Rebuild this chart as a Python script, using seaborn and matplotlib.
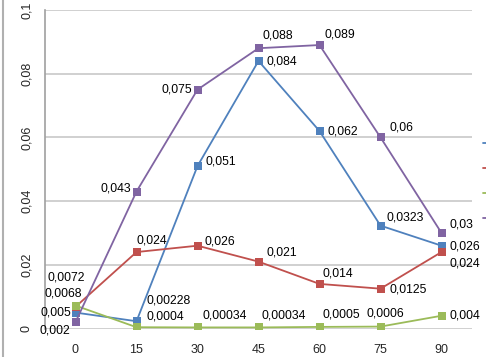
import numpy as np
import pandas as pd
import matplotlib
matplotlib.use('Agg')
import matplotlib.pyplot as plt
import seaborn as sns
from matplotlib.lines import Line2D

# data
times = [0, 15, 30, 45, 60, 75, 90]
series_names = ['Series1', 'Series2', 'Series3', 'Series4']
blue_vals = [0.005, 0.00228, 0.051, 0.084, 0.062, 0.0323, 0.026]
red_vals = [0.0068, 0.024, 0.026, 0.021, 0.014, 0.0125, 0.024]
green_vals = [0.0072, 0.0004, 0.00034, 0.00034, 0.0005, 0.0006, 0.004]
purple_vals = [0.002, 0.043, 0.075, 0.088, 0.089, 0.06, 0.03]
colors = ['#4F81BD', '#C0504D', '#9BBB59', '#8064A2']

# label offsets in pixels (dx, dy, ha) per series, per point
blue_offs = [(-4, 0, 'right'), (10, 21, 'left'), (8, 5, 'left'), (8, -1, 'left'),
             (8, 0, 'left'), (6, 8, 'left'), (8, -1, 'left')]
red_offs = [(-31, 13, 'left'), (0, 12, 'left'), (7, 4, 'left'), (8, 9, 'left'),
            (3, 10, 'left'), (9, -1, 'left'), (8, -11, 'left')]
green_offs = [(-28, 28, 'left'), (10, 11, 'left'), (5, 12, 'left'), (3, 12, 'left'),
              (3, 12, 'left'), (-14, 13, 'left'), (8, 0, 'left')]
purple_offs = [(-36, -8, 'left'), (-5, 3, 'right'), (-5, 0, 'right'), (4, 13, 'left'),
               (5, 11, 'left'), (9, 10, 'left'), (8, 8, 'left')]

all_vals = [blue_vals, red_vals, green_vals, purple_vals]
all_offs = [blue_offs, red_offs, green_offs, purple_offs]

df = pd.DataFrame({
    'time': times * 4,
    'value': blue_vals + red_vals + green_vals + purple_vals,
    'series': [s for s in series_names for _ in times],
})

sns.set_style('white')
plt.rcParams['font.family'] = ['Liberation Sans', 'DejaVu Sans']

W, H = 486, 357
fig = plt.figure(figsize=(W / 100, H / 100), dpi=100)
ax = fig.add_axes([45 / W, 1 - 328.5 / H, (472 - 45) / W, (328.5 - 10) / H])

sns.lineplot(data=df, x='time', y='value', hue='series', hue_order=series_names,
             palette=colors, marker='s', markersize=6, markeredgewidth=0,
             linewidth=1.3, ax=ax, legend=False)

def fmt(v):
    s = ('%.5f' % v).rstrip('0').rstrip('.')
    return s.replace('.', ',')

for vals, offs in zip(all_vals, all_offs):
    for t, v, (dx, dy, ha) in zip(times, vals, offs):
        ax.annotate(fmt(v), (t, v), xytext=(dx, dy), textcoords='offset pixels',
                    ha=ha, va='center', fontsize=8.8, color='black')

ax.set_xlim(-7.5, 97.5)
ax.set_ylim(0, 0.1)
ax.set_xticks(times)
ax.set_xticklabels([str(t) for t in times], fontsize=9)
yticks = [0, 0.02, 0.04, 0.06, 0.08, 0.1]
ax.set_yticks(yticks)
ax.set_yticklabels([fmt(t) if t else '0' for t in yticks], fontsize=9,
                   rotation=90, va='center')
ax.tick_params(axis='both', length=0, pad=9)
ax.tick_params(axis='x', pad=11)
ax.yaxis.grid(True, color='#C8C8C8', linewidth=1.2)
ax.set_xlabel('')
ax.set_ylabel('')
for side in ['top', 'right', 'bottom']:
    ax.spines[side].set_visible(False)
ax.spines['left'].set_color('#A0A0A0')
ax.spines['left'].set_linewidth(1.2)

# outer chart border (left edge visible)
fig.add_artist(Line2D([3 / W, 3 / W], [0, 1], color='#B0B0B0', linewidth=1.5))

# legend at the right edge, mostly cut off (only the line stubs show)
handles = [Line2D([], [], color=c, linewidth=1.3, marker='s', markersize=6,
                  markeredgewidth=0) for c in colors]
fig.legend(handles, [''] * 4, loc='upper left',
           bbox_to_anchor=(483 / W, 1 - 138 / H), frameon=False,
           fontsize=8.5, handlelength=2.2, labelspacing=1.1, borderpad=0,
           borderaxespad=0)

fig.savefig('out.png', dpi=100)
